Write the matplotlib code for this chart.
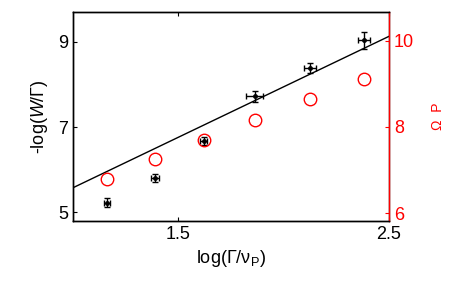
import matplotlib
matplotlib.use("Agg")
import matplotlib.pyplot as plt

plt.rcParams["font.family"] = ["Liberation Sans", "DejaVu Sans"]
plt.rcParams["mathtext.fontset"] = "custom"
plt.rcParams["mathtext.rm"] = "Liberation Sans"
plt.rcParams["mathtext.it"] = "Liberation Sans:italic"

# data
log_ratio = [1.16, 1.39, 1.62, 1.863, 2.125, 2.38]
neg_log_w = [5.23, 5.81, 6.68, 7.725, 8.39, 9.04]
x_err = [0.015, 0.02, 0.015, 0.04, 0.028, 0.028]
y_err = [0.11, 0.10, 0.10, 0.13, 0.125, 0.20]
omega_p = [6.80, 7.25, 7.69, 8.16, 8.64, 9.11]
fit_x = [1.0, 2.5]
fit_y = [5.58, 9.13]

fig = plt.figure(figsize=(4.63, 2.82), dpi=100)
ax = fig.add_axes([0.1577, 0.2163, 0.6825, 0.7411])
ax2 = ax.twinx()

ax.plot(fit_x, fit_y, color="black", lw=1)
ax.errorbar(log_ratio, neg_log_w, xerr=x_err, yerr=y_err, fmt=".", color="black",
            ms=5, elinewidth=1, capsize=2.5, capthick=1)
ax2.plot(log_ratio, omega_p, "o", mfc="none", mec="red", ms=9, mew=1)

ax.set_xlim(1.0, 2.5)
ax.set_ylim(4.8, 9.7)
ax2.set_ylim(5.82, 10.66)
ax.set_xticks([1.5, 2.5])
ax.set_xticklabels(["1.5", "2.5"])
ax.set_yticks([5, 7, 9])
ax2.set_yticks([6, 8, 10])

ax.tick_params(direction="in", length=3, labelsize=13, top=True, right=False)
ax2.tick_params(direction="in", length=3, labelsize=13, colors="red")
for a in (ax, ax2):
    for s in a.spines.values():
        s.set_linewidth(1)
ax2.spines["right"].set_color("red")

ax.set_xlabel("log(Γ/ν$_{\\rm P}$)", fontsize=13, labelpad=4)
ax.set_ylabel(r"-log($\mathit{W}$/Γ)", fontsize=13, labelpad=6)
ax2.set_ylabel("Ω  P", fontsize=10, color="red", rotation=90, labelpad=12)

fig.savefig("out.png", dpi=100)
